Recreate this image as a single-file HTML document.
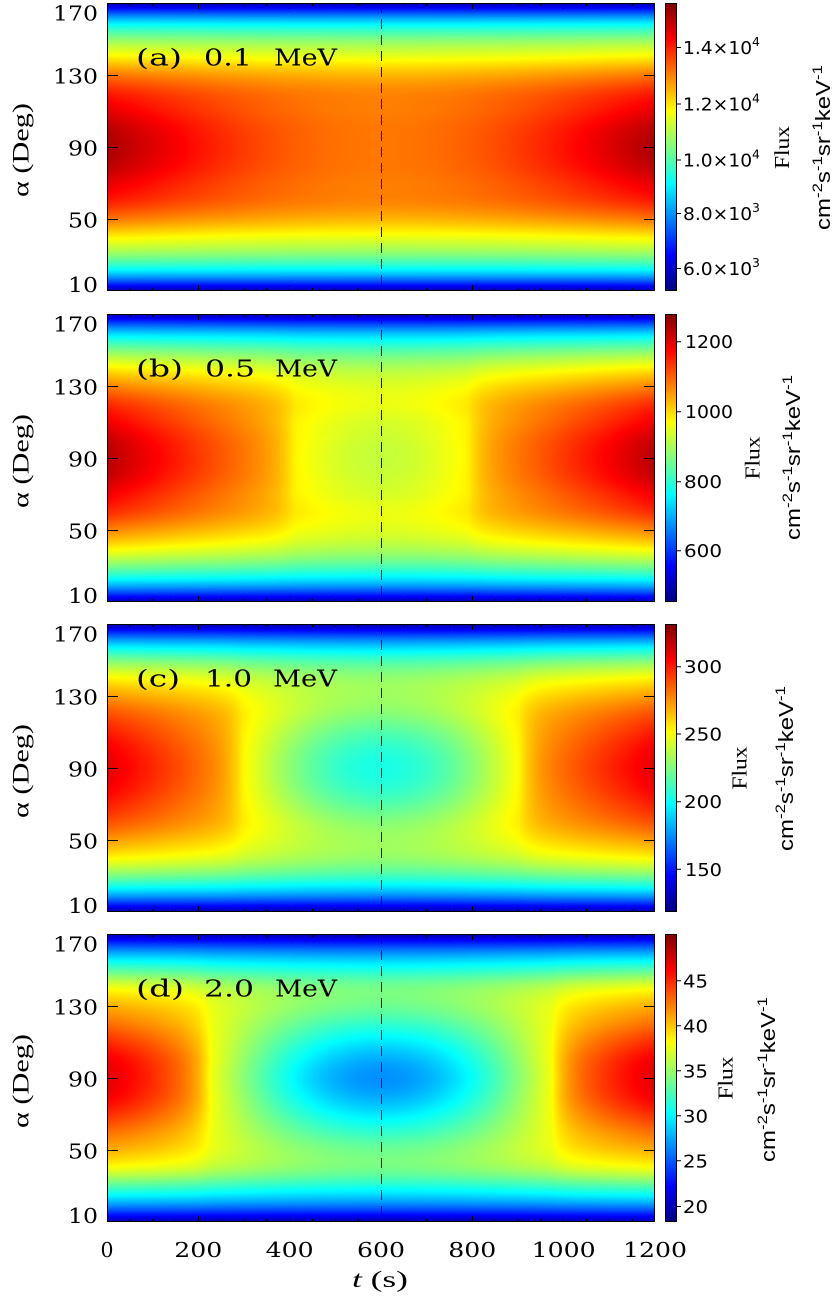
<!DOCTYPE html>
<html><head><meta charset="utf-8">
<style>
html,body{margin:0;padding:0;background:#fff;}
#wrap{position:relative;width:834px;height:1297px;overflow:hidden;background:#fff;}
canvas{position:absolute;left:107px;width:548px;height:288px;}
svg{position:absolute;left:0;top:0;}
.tl{font-family:"DejaVu Serif","Liberation Serif",serif;font-size:20.5px;fill:#000;}
.pl{font-family:"DejaVu Serif","Liberation Serif",serif;font-size:23px;fill:#000;}
.cb{font-family:"DejaVu Sans","Liberation Sans",sans-serif;font-size:18px;fill:#000;}
.fx{font-family:"Liberation Serif",serif;font-size:21px;fill:#000;}
.un{font-family:"Liberation Sans",sans-serif;font-size:20px;fill:#000;}
.ax{font-family:"Liberation Serif",serif;font-size:23px;fill:#000;}
</style></head><body><div id="wrap">
<canvas id="c0" width="548" height="288" style="top:3px"></canvas>
<canvas id="c1" width="548" height="288" style="top:314px"></canvas>
<canvas id="c2" width="548" height="288" style="top:624px"></canvas>
<canvas id="c3" width="548" height="288" style="top:934px"></canvas>
<svg width="834" height="1297" viewBox="0 0 834 1297" xmlns="http://www.w3.org/2000/svg">
<defs>
<linearGradient id="jet" x1="0" y1="1" x2="0" y2="0">
<stop offset="0" stop-color="#000080"/>
<stop offset="0.125" stop-color="#0000ff"/>
<stop offset="0.375" stop-color="#00ffff"/>
<stop offset="0.625" stop-color="#ffff00"/>
<stop offset="0.875" stop-color="#ff0000"/>
<stop offset="1" stop-color="#800000"/>
</linearGradient>
<g id="frame">
<rect x="107.5" y="0.5" width="547" height="287" fill="none" stroke="#000" stroke-width="1"/>
<path d="M198.5 288V282M289.5 288V282M381.5 288V282M472.5 288V282M563.5 288V282M198.5 0V6M289.5 0V6M381.5 0V6M472.5 0V6M563.5 0V6
M130 288V285M152.7 288V285M175.5 288V285M221.2 288V285M244 288V285M266.8 288V285M312.5 288V285M335.3 288V285M358.2 288V285M403.8 288V285M426.7 288V285M449.5 288V285M495.2 288V285M518 288V285M540.8 288V285M586.5 288V285M609.3 288V285M632.2 288V285
M130 0V3M152.7 0V3M175.5 0V3M221.2 0V3M244 0V3M266.8 0V3M312.5 0V3M335.3 0V3M358.2 0V3M403.8 0V3M426.7 0V3M449.5 0V3M495.2 0V3M518 0V3M540.8 0V3M586.5 0V3M609.3 0V3M632.2 0V3
M107 72.5H118M107 144.5H118M107 216.5H118M644 72.5H655M644 144.5H655M644 216.5H655" stroke="#000" stroke-width="1" fill="none"/>
<line x1="381.5" y1="0" x2="381.5" y2="288" stroke="#000" stroke-width="1" stroke-dasharray="10 6"/>
<rect x="665" y="0" width="12" height="288" fill="url(#jet)"/>
<rect x="665.5" y="0.5" width="11" height="287" fill="none" stroke="#000" stroke-width="1"/>
<text class="tl" x="53" y="17.5" textLength="45" lengthAdjust="spacingAndGlyphs">170</text>
<text class="tl" x="53" y="80.5" textLength="45" lengthAdjust="spacingAndGlyphs">130</text>
<text class="tl" x="68" y="152.5" textLength="30" lengthAdjust="spacingAndGlyphs">90</text>
<text class="tl" x="68" y="224.5" textLength="30" lengthAdjust="spacingAndGlyphs">50</text>
<text class="tl" x="68" y="289" textLength="30" lengthAdjust="spacingAndGlyphs">10</text>
<text class="ax" transform="translate(28.5,147) rotate(-90)" x="-47" y="0" textLength="94" lengthAdjust="spacingAndGlyphs">α (Deg)</text>
</g>
</defs>

<!-- Panel a -->
<g transform="translate(0,3)">
<use href="#frame"/>
<text class="pl" x="136" y="62.5" textLength="46" lengthAdjust="spacingAndGlyphs">(a)</text>
<text class="pl" x="204" y="62.5" textLength="48" lengthAdjust="spacingAndGlyphs">0.1</text>
<text class="pl" x="274" y="62.5" textLength="63" lengthAdjust="spacingAndGlyphs">MeV</text>
<path d="M677 44.5H681M677 101H681M677 157H681M677 210.5H681M677 265.5H681" stroke="#000"/>
<text class="cb" x="683" y="51" textLength="77" lengthAdjust="spacingAndGlyphs">1.4×10<tspan font-size="12" dy="-8">4</tspan></text>
<text class="cb" x="683" y="107.5" textLength="77" lengthAdjust="spacingAndGlyphs">1.2×10<tspan font-size="12" dy="-8">4</tspan></text>
<text class="cb" x="683" y="163.5" textLength="77" lengthAdjust="spacingAndGlyphs">1.0×10<tspan font-size="12" dy="-8">4</tspan></text>
<text class="cb" x="683" y="217" textLength="77" lengthAdjust="spacingAndGlyphs">8.0×10<tspan font-size="12" dy="-8">3</tspan></text>
<text class="cb" x="683" y="272" textLength="77" lengthAdjust="spacingAndGlyphs">6.0×10<tspan font-size="12" dy="-8">3</tspan></text>
<text class="fx" transform="translate(789,144.5) rotate(-90)" x="-21.5" y="0" textLength="43" lengthAdjust="spacingAndGlyphs">Flux</text>
<text class="un" transform="translate(830,144.5) rotate(-90)" x="-82.5" y="0" textLength="165" lengthAdjust="spacingAndGlyphs">cm<tspan font-size="14" dy="-8">-2</tspan><tspan dy="8">s</tspan><tspan font-size="14" dy="-8">-1</tspan><tspan dy="8">sr</tspan><tspan font-size="14" dy="-8">-1</tspan><tspan dy="8">keV</tspan><tspan font-size="14" dy="-8">-1</tspan></text>
</g>

<!-- Panel b -->
<g transform="translate(0,314)">
<use href="#frame"/>
<text class="pl" x="136" y="62.5" textLength="47" lengthAdjust="spacingAndGlyphs">(b)</text>
<text class="pl" x="205" y="62.5" textLength="50" lengthAdjust="spacingAndGlyphs">0.5</text>
<text class="pl" x="275" y="62.5" textLength="62" lengthAdjust="spacingAndGlyphs">MeV</text>
<path d="M677 27.7H681M677 97.7H681M677 167.7H681M677 236.7H681" stroke="#000"/>
<text class="cb" x="685" y="34.2" textLength="48" lengthAdjust="spacingAndGlyphs">1200</text>
<text class="cb" x="685" y="104.2" textLength="48" lengthAdjust="spacingAndGlyphs">1000</text>
<text class="cb" x="684" y="174.2" textLength="38" lengthAdjust="spacingAndGlyphs">800</text>
<text class="cb" x="684" y="243.2" textLength="38" lengthAdjust="spacingAndGlyphs">600</text>
<text class="fx" transform="translate(759.5,144) rotate(-90)" x="-21.5" y="0" textLength="43" lengthAdjust="spacingAndGlyphs">Flux</text>
<text class="un" transform="translate(800,143.5) rotate(-90)" x="-82.5" y="0" textLength="165" lengthAdjust="spacingAndGlyphs">cm<tspan font-size="14" dy="-8">-2</tspan><tspan dy="8">s</tspan><tspan font-size="14" dy="-8">-1</tspan><tspan dy="8">sr</tspan><tspan font-size="14" dy="-8">-1</tspan><tspan dy="8">keV</tspan><tspan font-size="14" dy="-8">-1</tspan></text>
</g>

<!-- Panel c -->
<g transform="translate(0,624)">
<use href="#frame"/>
<text class="pl" x="136" y="62.5" textLength="44" lengthAdjust="spacingAndGlyphs">(c)</text>
<text class="pl" x="205" y="62.5" textLength="47" lengthAdjust="spacingAndGlyphs">1.0</text>
<text class="pl" x="273" y="62.5" textLength="64" lengthAdjust="spacingAndGlyphs">MeV</text>
<path d="M677 42.7H681M677 110H681M677 177.7H681M677 245.3H681" stroke="#000"/>
<text class="cb" x="684" y="49.2" textLength="38" lengthAdjust="spacingAndGlyphs">300</text>
<text class="cb" x="684" y="116.5" textLength="38" lengthAdjust="spacingAndGlyphs">250</text>
<text class="cb" x="684" y="184.2" textLength="38" lengthAdjust="spacingAndGlyphs">200</text>
<text class="cb" x="685" y="251.8" textLength="37" lengthAdjust="spacingAndGlyphs">150</text>
<text class="fx" transform="translate(746.5,144) rotate(-90)" x="-21.5" y="0" textLength="43" lengthAdjust="spacingAndGlyphs">Flux</text>
<text class="un" transform="translate(793,144.5) rotate(-90)" x="-82.5" y="0" textLength="165" lengthAdjust="spacingAndGlyphs">cm<tspan font-size="14" dy="-8">-2</tspan><tspan dy="8">s</tspan><tspan font-size="14" dy="-8">-1</tspan><tspan dy="8">sr</tspan><tspan font-size="14" dy="-8">-1</tspan><tspan dy="8">keV</tspan><tspan font-size="14" dy="-8">-1</tspan></text>
</g>

<!-- Panel d -->
<g transform="translate(0,934)">
<use href="#frame"/>
<text class="pl" x="136" y="62.5" textLength="48" lengthAdjust="spacingAndGlyphs">(d)</text>
<text class="pl" x="204" y="62.5" textLength="50" lengthAdjust="spacingAndGlyphs">2.0</text>
<text class="pl" x="275" y="62.5" textLength="62" lengthAdjust="spacingAndGlyphs">MeV</text>
<path d="M677 46.8H681M677 91.8H681M677 136.8H681M677 181.8H681M677 226.8H681M677 272.5H681" stroke="#000"/>
<text class="cb" x="683" y="53.3" textLength="25" lengthAdjust="spacingAndGlyphs">45</text>
<text class="cb" x="683" y="98.3" textLength="25" lengthAdjust="spacingAndGlyphs">40</text>
<text class="cb" x="683" y="143.3" textLength="25" lengthAdjust="spacingAndGlyphs">35</text>
<text class="cb" x="683" y="188.3" textLength="25" lengthAdjust="spacingAndGlyphs">30</text>
<text class="cb" x="683" y="233.3" textLength="25" lengthAdjust="spacingAndGlyphs">25</text>
<text class="cb" x="683" y="279" textLength="25" lengthAdjust="spacingAndGlyphs">20</text>
<text class="fx" transform="translate(732.5,144) rotate(-90)" x="-21.5" y="0" textLength="43" lengthAdjust="spacingAndGlyphs">Flux</text>
<text class="un" transform="translate(775,145.5) rotate(-90)" x="-82.5" y="0" textLength="165" lengthAdjust="spacingAndGlyphs">cm<tspan font-size="14" dy="-8">-2</tspan><tspan dy="8">s</tspan><tspan font-size="14" dy="-8">-1</tspan><tspan dy="8">sr</tspan><tspan font-size="14" dy="-8">-1</tspan><tspan dy="8">keV</tspan><tspan font-size="14" dy="-8">-1</tspan></text>
</g>

<!-- x axis labels -->
<text class="tl" x="100.5" y="1257" textLength="13" lengthAdjust="spacingAndGlyphs">0</text>
<text class="tl" x="174.3" y="1257" textLength="48" lengthAdjust="spacingAndGlyphs">200</text>
<text class="tl" x="265.7" y="1257" textLength="48" lengthAdjust="spacingAndGlyphs">400</text>
<text class="tl" x="357" y="1257" textLength="48" lengthAdjust="spacingAndGlyphs">600</text>
<text class="tl" x="448.3" y="1257" textLength="48" lengthAdjust="spacingAndGlyphs">800</text>
<text class="tl" x="531.7" y="1257" textLength="64" lengthAdjust="spacingAndGlyphs">1000</text>
<text class="tl" x="623" y="1257" textLength="64" lengthAdjust="spacingAndGlyphs">1200</text>
<text class="ax" x="352" y="1287" textLength="56" lengthAdjust="spacingAndGlyphs"><tspan font-style="italic">t</tspan> (s)</text>
</svg>
</div>
<script>
(function(){
function cl(v){return v<0?0:(v>1?1:v);}
function jet(n){n=cl(n);return [cl(1.5-Math.abs(4*n-3))*255,cl(1.5-Math.abs(4*n-2))*255,cl(1.5-Math.abs(4*n-1))*255];}
function Sf(k,d){
  if(d>=80) return k[8];
  var i=Math.floor(d/10), u=d/10-i;
  var p1=k[i], p2=k[i+1];
  var p0=i>0?k[i-1]:k[1];
  var p3=(i+2<=8)?k[i+2]:2*k[8]-k[7];
  return 0.5*((2*p1)+(-p0+p2)*u+(2*p0-5*p1+4*p2-p3)*u*u+(-p0+3*p1-3*p2+p3)*u*u*u);
}
var P=[
 {id:'c0',v0:15180,vmin:5185,vmax:15611,S:[1,.99,.96,.925,.863,.78,.694,.57,.37],w:40,type:'a',r:.137},
 {id:'c1',v0:1236,vmin:453,vmax:1279.5,S:[1,.99,.96,.925,.866,.793,.70,.58,.40],w:46,ts:410,a:.168,p:.95,b:.042,tau:30,r3:.254},
 {id:'c2',v0:310.6,vmin:118.4,vmax:331.6,S:[1,.99,.965,.93,.878,.814,.72,.59,.41],w:44,ts:297,a:.13,p:1.0,b:.056,tau:30,r3:.345},
 {id:'c3',v0:47,vmin:18.28,vmax:50.19,S:[1,.99,.955,.91,.866,.806,.70,.58,.42],w:42,ts:227,a:.121,p:1.2,b:.073,tau:30,r3:.43}
];
function Rt(t,q){
  if(t<0)t=-t; if(t>1200)t=2400-t; if(t>600)t=1200-t;
  if(q.type==='a') return q.r*Math.sin(Math.PI*t/1200);
  if(t<q.ts) return q.a*Math.pow(t/q.ts,q.p)+q.b*Math.exp((t-q.ts)/q.tau);
  var r2=q.a+q.b;
  return r2+(q.r3-r2)*Math.sin(Math.PI/2*(t-q.ts)/(600-q.ts));
}
var W=548,H=288;
P.forEach(function(q){
  var cv=document.getElementById(q.id); if(!cv||!cv.getContext) return;
  var ctx=cv.getContext('2d'); var img=ctx.createImageData(W,H); var D=img.data;
  var Rc=new Float64Array(W);
  for(var i=0;i<W;i++){
    var t=(i+0.5)*1200/W,s=0,ws=0;
    for(var k=-6;k<=6;k++){var wt=7-Math.abs(k);s+=wt*Rt(t+k*1.2,q);ws+=wt;}
    Rc[i]=s/ws;
  }
  for(var j=0;j<H;j++){
    var a=170-(j+0.5)*160/H, d=Math.abs(a-90);
    var S=Sf(q.S,d), G=Math.exp(-(d/q.w)*(d/q.w));
    for(var i2=0;i2<W;i2++){
      var v=q.v0*S*(1-Rc[i2]*G);
      var c=jet((v-q.vmin)/(q.vmax-q.vmin));
      var o=(j*W+i2)*4; D[o]=c[0];D[o+1]=c[1];D[o+2]=c[2];D[o+3]=255;
    }
  }
  ctx.putImageData(img,0,0);
});
})();
</script>
</body></html>
